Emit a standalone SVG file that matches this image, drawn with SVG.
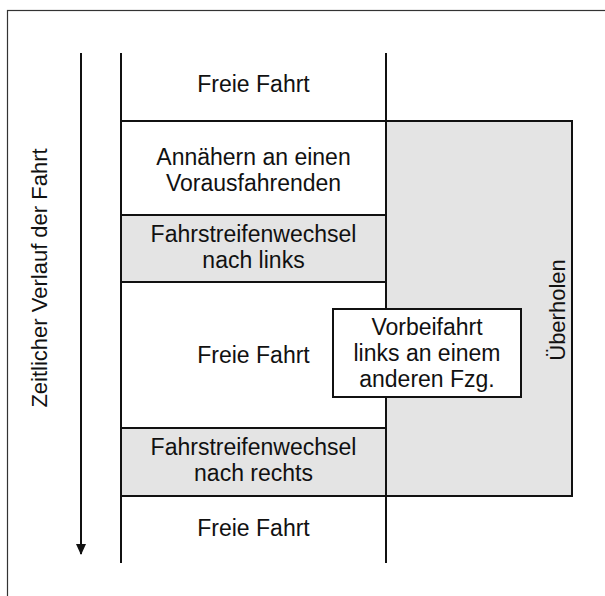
<svg xmlns="http://www.w3.org/2000/svg" width="605" height="596" viewBox="0 0 605 596">
  <style>
    .lbl { font-family: "Liberation Sans", Arial, sans-serif; font-size: 23px; fill: #111; text-anchor: middle; }
    .vlbl { font-family: "Liberation Sans", Arial, sans-serif; font-size: 22px; fill: #111; text-anchor: middle; }
    .ln { stroke: #111; stroke-width: 2; fill: none; }
    .shade { fill: #e4e4e4; }
  </style>
  <defs>
    <marker id="arrowhead" markerWidth="11" markerHeight="10" refX="10" refY="5" orient="auto" markerUnits="userSpaceOnUse" viewBox="0 0 11 10">
      <path d="M0,0 L11,5 L0,10 Z" fill="#111"/>
    </marker>
  </defs>

  <rect width="605" height="596" fill="#fff"/>
  <!-- outer frame -->
  <rect x="7.5" y="10.5" width="620" height="620" fill="none" stroke="#333" stroke-width="1.2"/>

  <!-- overtaking band on the right -->
  <g id="ueberholen">
    <rect class="shade" x="386" y="121" width="186" height="375"/>
    <rect class="ln" x="386" y="121" width="186" height="375"/>
    <text class="vlbl" transform="translate(565,310) rotate(-90)">Überholen</text>
  </g>

  <!-- phases in the main column -->
  <g id="phase-freie-fahrt-1">
    <text class="lbl" x="253.5" y="92">Freie Fahrt</text>
  </g>
  <g id="phase-annaehern">
    <text class="lbl" x="253.5" y="165">Annähern an einen</text>
    <text class="lbl" x="253.5" y="191">Vorausfahrenden</text>
  </g>
  <g id="phase-wechsel-links">
    <rect class="shade" x="121" y="215" width="265" height="67"/>
    <text class="lbl" x="253.5" y="242">Fahrstreifenwechsel</text>
    <text class="lbl" x="253.5" y="268">nach links</text>
  </g>
  <g id="phase-freie-fahrt-2">
    <text class="lbl" x="253.5" y="363">Freie Fahrt</text>
  </g>
  <g id="phase-wechsel-rechts">
    <rect class="shade" x="121" y="428" width="265" height="68"/>
    <text class="lbl" x="253.5" y="455">Fahrstreifenwechsel</text>
    <text class="lbl" x="253.5" y="481">nach rechts</text>
  </g>
  <g id="phase-freie-fahrt-3">
    <text class="lbl" x="253.5" y="536">Freie Fahrt</text>
  </g>

  <!-- column borders and separators -->
  <g id="connectors">
    <line class="ln" x1="121" y1="53" x2="121" y2="563"/>
    <line class="ln" x1="386" y1="53" x2="386" y2="563"/>
    <line class="ln" x1="121" y1="121" x2="386" y2="121"/>
    <line class="ln" x1="121" y1="215" x2="386" y2="215"/>
    <line class="ln" x1="121" y1="282" x2="386" y2="282"/>
    <line class="ln" x1="121" y1="428" x2="386" y2="428"/>
    <line class="ln" x1="121" y1="496" x2="386" y2="496"/>
    <!-- time axis -->
    <line class="ln" x1="81" y1="53" x2="81" y2="554" marker-end="url(#arrowhead)"/>
  </g>

  <g id="vorbeifahrt">
    <rect x="333" y="309" width="188" height="88" fill="#fff" stroke="#111" stroke-width="2"/>
    <text class="lbl" x="427" y="335">Vorbeifahrt</text>
    <text class="lbl" x="427" y="361">links an einem</text>
    <text class="lbl" x="427" y="387">anderen Fzg.</text>
  </g>

  <g id="zeitachse-label">
    <text class="vlbl" transform="translate(47,278) rotate(-90)">Zeitlicher Verlauf der Fahrt</text>
  </g>
</svg>
